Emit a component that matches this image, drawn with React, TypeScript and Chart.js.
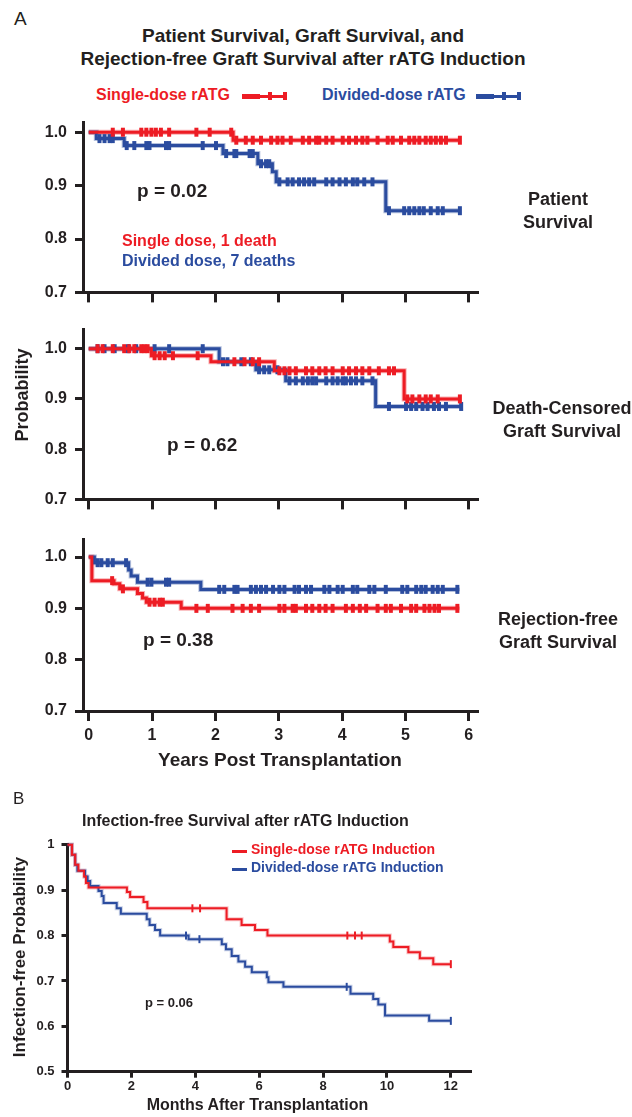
import React, { useEffect, useRef } from "react";
import { Chart, registerables } from "chart.js";

Chart.register(...registerables);

const FONT = '"Liberation Sans", Arial, Helvetica, sans-serif';
const INK = "#231f20";
const RED = "#ed1c24";
const BLUE = "#2b4c9f";
const RED_HALO = "rgba(237, 28, 36, 0.35)";
const BLUE_HALO = "rgba(43, 76, 159, 0.35)";

// ---------- Panel A axes ----------
const A_X_TICKS = [0, 1, 2, 3, 4, 5, 6];
const A_Y_TICKS = [0.7, 0.8, 0.9, 1.0];

// ---------- A1: Patient survival ----------
const PS_SINGLE_T = [0, 2.28, 5.87];
const PS_SINGLE_S = [1.0, 0.985, 0.985];
const PS_SINGLE_CENSOR = [
  0.38, 0.54, 0.83, 0.91, 0.99, 1.06, 1.14, 1.27, 1.7, 1.91, 2.25, 2.33, 2.48, 2.59, 2.72, 2.88,
  2.98, 3.06, 3.19, 3.38, 3.48, 3.59, 3.64, 3.75, 3.85, 4.01, 4.11, 4.22, 4.32, 4.4, 4.56, 4.72,
  4.8, 4.93, 5.06, 5.14, 5.22, 5.32, 5.4, 5.48, 5.56, 5.64, 5.86,
];
const PS_DIVIDED_T = [0, 0.12, 0.56, 2.12, 2.67, 2.9, 2.96, 4.69, 5.86];
const PS_DIVIDED_S = [1.0, 0.988, 0.975, 0.96, 0.941, 0.926, 0.907, 0.853, 0.853];
const PS_DIVIDED_CENSOR = [
  0.17, 0.25, 0.33, 0.38, 0.6, 0.72, 0.91, 0.96, 1.22, 1.27, 1.8, 2.01, 2.17, 2.3, 2.33, 2.54,
  2.59, 2.72, 2.8, 2.85, 3.01, 3.14, 3.22, 3.32, 3.4, 3.48, 3.56, 3.75, 3.85, 3.96, 4.06, 4.17,
  4.24, 4.35, 4.48, 4.74, 4.98, 5.06, 5.14, 5.22, 5.29, 5.4, 5.51, 5.59, 5.86,
];

// ---------- A2: Death-censored graft survival ----------
const GS_SINGLE_T = [0, 0.99, 1.93, 2.93, 4.98, 5.87];
const GS_SINGLE_S = [1.0, 0.986, 0.974, 0.956, 0.9, 0.9];
const GS_SINGLE_CENSOR = [
  0.14, 0.22, 0.38, 0.56, 0.64, 0.72, 0.83, 0.88, 0.93, 1.04, 1.12, 1.2, 1.33, 1.72, 2.3, 2.46,
  2.59, 2.69, 3.01, 3.09, 3.17, 3.27, 3.43, 3.53, 3.64, 3.74, 3.85, 4.01, 4.11, 4.22, 4.32, 4.43,
  4.58, 4.74, 4.82, 5.03, 5.11, 5.22, 5.32, 5.4, 5.51, 5.86,
];
const GS_DIVIDED_T = [0, 2.06, 2.64, 3.11, 4.53, 5.88];
const GS_DIVIDED_S = [1.0, 0.974, 0.958, 0.936, 0.885, 0.885];
const GS_DIVIDED_CENSOR = [
  0.14, 0.25, 0.41, 0.62, 0.75, 1.04, 1.27, 1.8, 2.12, 2.19, 2.41, 2.56, 2.69, 2.77, 2.85, 2.98,
  3.17, 3.27, 3.38, 3.46, 3.53, 3.59, 3.75, 3.85, 3.93, 4.01, 4.06, 4.14, 4.22, 4.32, 4.48, 4.74,
  5.01, 5.09, 5.17, 5.27, 5.35, 5.45, 5.53, 5.64, 5.88,
];

// ---------- A3: Rejection-free graft survival ----------
const RF_SINGLE_T = [0, 0.05, 0.4, 0.49, 0.77, 0.85, 0.91, 1.46, 5.85];
const RF_SINGLE_S = [1.0, 0.954, 0.948, 0.938, 0.929, 0.92, 0.912, 0.9, 0.9];
const RF_SINGLE_CENSOR = [
  0.37, 0.54, 0.96, 1.04, 1.12, 1.17, 1.7, 1.88, 2.27, 2.43, 2.56, 2.69, 3.01, 3.09, 3.22, 3.27,
  3.43, 3.53, 3.64, 3.74, 3.85, 4.06, 4.17, 4.28, 4.38, 4.56, 4.69, 4.77, 4.93, 5.09, 5.17, 5.3,
  5.38, 5.46, 5.53, 5.82,
];
const RF_DIVIDED_T = [0, 0.09, 0.63, 0.67, 0.77, 1.77, 5.85];
const RF_DIVIDED_S = [1.0, 0.989, 0.975, 0.963, 0.951, 0.937, 0.937];
const RF_DIVIDED_CENSOR = [
  0.14, 0.2, 0.3, 0.38, 0.59, 0.93, 0.99, 1.22, 1.27, 2.06, 2.14, 2.3, 2.35, 2.56, 2.64, 2.72,
  2.8, 2.91, 3.01, 3.09, 3.25, 3.32, 3.43, 3.51, 3.72, 3.8, 3.93, 4.01, 4.17, 4.24, 4.43, 4.51,
  4.69, 4.95, 5.03, 5.17, 5.25, 5.32, 5.43, 5.51, 5.59, 5.82,
];

// ---------- Panel B: Infection-free survival ----------
const B_X_TICKS = [0, 2, 4, 6, 8, 10, 12];
const B_Y_TICKS = [0.5, 0.6, 0.7, 0.8, 0.9, 1.0];
const IF_SINGLE_T = [
  0, 0.14, 0.24, 0.34, 0.52, 0.58, 0.66, 1.86, 1.96, 2.38, 2.5, 4.98, 5.45, 5.87, 6.26, 10.09,
  10.2, 10.67, 11.03, 11.45, 12.0,
];
const IF_SINGLE_S = [
  1.0, 0.978, 0.956, 0.943, 0.93, 0.916, 0.906, 0.896, 0.885, 0.874, 0.86, 0.836, 0.823, 0.812,
  0.8, 0.787, 0.775, 0.763, 0.75, 0.737, 0.737,
];
const IF_SINGLE_CENSOR = [3.91, 4.15, 8.76, 9.0, 9.21, 12.0];
const IF_DIVIDED_T = [
  0, 0.14, 0.24, 0.31, 0.55, 0.63, 0.71, 0.97, 1.07, 1.13, 1.54, 1.67, 2.48, 2.57, 2.74, 2.9,
  3.79, 4.83, 4.96, 5.14, 5.35, 5.56, 5.77, 6.24, 6.29, 6.76, 8.86, 9.57, 9.73, 9.94, 11.32, 12.0,
];
const IF_DIVIDED_S = [
  1.0, 0.978, 0.956, 0.943, 0.93, 0.92, 0.909, 0.898, 0.887, 0.872, 0.86, 0.848, 0.836, 0.823,
  0.812, 0.8, 0.792, 0.781, 0.77, 0.755, 0.743, 0.731, 0.719, 0.708, 0.697, 0.687, 0.672, 0.66,
  0.648, 0.624, 0.612, 0.612,
];
const IF_DIVIDED_CENSOR = [3.71, 4.13, 8.74, 12.0];

function stepAt(ts: number[], vs: number[], t: number) {
  let v = vs[0];
  for (let i = 0; i < ts.length; i++) if (ts[i] <= t) v = vs[i];
  return v;
}

type Series = { t: number[]; s: number[]; c: number[]; color: string; halo: string };
type Spec = {
  box: { left: number; top: number; w: number; h: number };
  area: { l: number; t: number; r: number; b: number };
  x: { min: number; max: number; ticks: number[]; tickLen: number; showLabels: boolean; fontSize: number; pad: number; title?: string; titleSize?: number };
  y: { min: number; max: number; ticks: number[]; tickLen: number; fontSize: number; pad: number; fmt: (v: number) => string };
  axisW: number;
  lineW: number;
  markR: number;
  markW: number;
  series: Series[];
};

function buildConfig(p: Spec): any {
  const yWidth = p.area.l - p.box.left;
  const xHeight = p.box.top + p.box.h - p.area.b;
  const lines: any[] = [];
  const halos: any[] = [];
  p.series.forEach((s) => {
    const pts = s.t.map((t, i) => ({ x: t, y: s.s[i] }));
    const marks = s.c.map((t) => ({ x: t, y: stepAt(s.t, s.s, t) }));
    lines.push({
      data: pts,
      showLine: true,
      stepped: "before",
      borderColor: s.color,
      backgroundColor: s.color,
      borderWidth: p.lineW,
      pointRadius: 0,
      pointHoverRadius: 0,
      clip: false,
    });
    lines.push({
      data: marks,
      showLine: false,
      pointStyle: "line",
      pointRotation: 90,
      pointRadius: p.markR,
      pointHoverRadius: p.markR,
      pointBorderWidth: p.markW,
      pointBorderColor: s.color,
      pointBackgroundColor: s.color,
      borderColor: s.color,
      backgroundColor: s.color,
      clip: false,
    });
    halos.push({
      data: pts,
      showLine: true,
      stepped: "before",
      borderColor: s.halo,
      backgroundColor: s.halo,
      borderWidth: p.lineW + 2,
      pointRadius: 0,
      pointHoverRadius: 0,
      clip: false,
    });
  });
  const datasets = [...lines, ...halos];
  const tickFont = (size: number) => ({ family: FONT, size, weight: "bold" as const });
  return {
    type: "scatter",
    data: { datasets },
    options: {
      responsive: false,
      animation: false,
      devicePixelRatio: 1,
      events: [],
      layout: {
        padding: { top: p.area.t - p.box.top, right: p.box.left + p.box.w - p.area.r, left: 0, bottom: 0 },
      },
      plugins: { legend: { display: false }, tooltip: { enabled: false }, title: { display: false } },
      scales: {
        x: {
          type: "linear",
          min: p.x.min,
          max: p.x.max,
          afterBuildTicks: (s: any) => {
            s.ticks = p.x.ticks.map((v) => ({ value: v }));
          },
          afterFit: (s: any) => {
            s.height = xHeight;
          },
          grid: {
            display: true,
            drawOnChartArea: false,
            drawTicks: true,
            tickLength: p.x.tickLen,
            tickWidth: p.axisW,
            tickColor: INK,
            color: INK,
            lineWidth: p.axisW,
          },
          border: { display: true, color: INK, width: p.axisW },
          ticks: {
            display: p.x.showLabels,
            color: INK,
            font: tickFont(p.x.fontSize),
            padding: p.x.pad,
            maxRotation: 0,
            autoSkip: false,
            callback: (v: number) => String(v),
          },
          title: {
            display: !!p.x.title,
            text: p.x.title || "",
            color: INK,
            font: tickFont(p.x.titleSize || 16),
            padding: { top: 0, bottom: 0 },
          },
        },
        y: {
          type: "linear",
          position: "left",
          min: p.y.min,
          max: p.y.max,
          afterBuildTicks: (s: any) => {
            s.ticks = p.y.ticks.map((v) => ({ value: v }));
          },
          afterFit: (s: any) => {
            s.width = yWidth;
          },
          grid: {
            display: true,
            drawOnChartArea: false,
            drawTicks: true,
            tickLength: p.y.tickLen,
            tickWidth: p.axisW,
            tickColor: INK,
            color: INK,
            lineWidth: p.axisW,
          },
          border: { display: true, color: INK, width: p.axisW },
          ticks: {
            display: true,
            color: INK,
            font: tickFont(p.y.fontSize),
            padding: p.y.pad,
            autoSkip: false,
            callback: (v: number) => p.y.fmt(v),
          },
        },
      },
    },
  };
}

function KMChart({ spec }: { spec: Spec }) {
  const ref = useRef<HTMLCanvasElement | null>(null);
  useEffect(() => {
    if (!ref.current) return;
    const chart = new Chart(ref.current, buildConfig(spec));
    return () => chart.destroy();
  }, []);
  return (
    <canvas
      ref={ref}
      width={spec.box.w}
      height={spec.box.h}
      style={{ position: "absolute", left: spec.box.left, top: spec.box.top, width: spec.box.w, height: spec.box.h }}
    />
  );
}

const aX = (showLabels: boolean, title?: string) => ({
  min: -0.09,
  max: 6.13,
  ticks: A_X_TICKS,
  tickLen: 10,
  showLabels,
  fontSize: 16,
  pad: 5,
  title,
  titleSize: 19,
});
const aY = (max: number) => ({
  min: 0.7,
  max,
  ticks: A_Y_TICKS,
  tickLen: 8,
  fontSize: 16,
  pad: 8,
  fmt: (v: number) => v.toFixed(1),
});

const SPEC_A1: Spec = {
  box: { left: 0, top: 105, w: 632, h: 205 },
  area: { l: 83, t: 122, r: 477, b: 294 },
  x: aX(false),
  y: aY(1.018),
  axisW: 3,
  lineW: 3,
  markR: 4.5,
  markW: 4,
  series: [
    { t: PS_SINGLE_T, s: PS_SINGLE_S, c: PS_SINGLE_CENSOR, color: RED, halo: RED_HALO },
    { t: PS_DIVIDED_T, s: PS_DIVIDED_S, c: PS_DIVIDED_CENSOR, color: BLUE, halo: BLUE_HALO },
  ],
};
const SPEC_A2: Spec = {
  box: { left: 0, top: 312, w: 632, h: 205 },
  area: { l: 83, t: 320, r: 477, b: 503 },
  x: aX(false),
  y: aY(1.038),
  axisW: 3,
  lineW: 3,
  markR: 4.5,
  markW: 4,
  series: [
    { t: GS_SINGLE_T, s: GS_SINGLE_S, c: GS_SINGLE_CENSOR, color: RED, halo: RED_HALO },
    { t: GS_DIVIDED_T, s: GS_DIVIDED_S, c: GS_DIVIDED_CENSOR, color: BLUE, halo: BLUE_HALO },
  ],
};
const SPEC_A3: Spec = {
  box: { left: 0, top: 522, w: 632, h: 250 },
  area: { l: 83, t: 530, r: 477, b: 711 },
  x: aX(true, "Years Post Transplantation"),
  y: aY(1.034),
  axisW: 3,
  lineW: 3,
  markR: 4.5,
  markW: 4,
  series: [
    { t: RF_SINGLE_T, s: RF_SINGLE_S, c: RF_SINGLE_CENSOR, color: RED, halo: RED_HALO },
    { t: RF_DIVIDED_T, s: RF_DIVIDED_S, c: RF_DIVIDED_CENSOR, color: BLUE, halo: BLUE_HALO },
  ],
};
const SPEC_B: Spec = {
  box: { left: 0, top: 830, w: 632, h: 285 },
  area: { l: 67.5, t: 843.3, r: 470, b: 1071.7 },
  x: { min: 0, max: 12.6, ticks: B_X_TICKS, tickLen: 6, showLabels: true, fontSize: 13, pad: 1 },
  y: { min: 0.5, max: 1.0, ticks: B_Y_TICKS, tickLen: 6, fontSize: 13, pad: 7, fmt: (v: number) => (v === 1 ? "1" : v.toFixed(1)) },
  axisW: 3,
  lineW: 2,
  markR: 4,
  markW: 2,
  series: [
    { t: IF_SINGLE_T, s: IF_SINGLE_S, c: IF_SINGLE_CENSOR, color: RED, halo: "rgba(237, 28, 36, 0.25)" },
    { t: IF_DIVIDED_T, s: IF_DIVIDED_S, c: IF_DIVIDED_CENSOR, color: BLUE, halo: "rgba(43, 76, 159, 0.25)" },
  ],
};

// ---------- text helpers ----------
function Txt(props: { x: number; y: number; size: number; bold?: boolean; color?: string; align?: "left" | "center"; w?: number; children: React.ReactNode }) {
  const { x, y, size, bold = true, color = INK, align = "left", w = 400, children } = props;
  const lh = Math.round(size * 1.2);
  const top = y - lh / 2 - size * 0.09;
  const left = align === "center" ? x - w / 2 : x;
  return (
    <div
      style={{
        position: "absolute",
        left,
        top,
        width: align === "center" ? w : undefined,
        textAlign: align,
        whiteSpace: "nowrap",
        fontFamily: FONT,
        fontSize: size,
        fontWeight: bold ? 700 : 400,
        lineHeight: lh + "px",
        color,
      }}
    >
      {children}
    </div>
  );
}

function Lines(props: { x: number; y: number; size: number; gap: number; lines: string[]; w?: number }) {
  return (
    <>
      {props.lines.map((l, i) => (
        <Txt key={i} x={props.x} y={props.y + i * props.gap} size={props.size} align="center" w={props.w || 200}>
          {l}
        </Txt>
      ))}
    </>
  );
}

function VTxt(props: { cx: number; cy: number; size: number; children: React.ReactNode }) {
  const w = 300;
  const lh = Math.round(props.size * 1.2);
  return (
    <div
      style={{
        position: "absolute",
        left: props.cx - w / 2,
        top: props.cy - lh / 2,
        width: w,
        height: lh,
        lineHeight: lh + "px",
        textAlign: "center",
        fontFamily: FONT,
        fontSize: props.size,
        fontWeight: 700,
        color: INK,
        transform: "rotate(-90deg)",
        whiteSpace: "nowrap",
      }}
    >
      {props.children}
    </div>
  );
}

function LegendMarkA(props: { x: number; y: number; color: string }) {
  const { x, y, color } = props;
  const box = (l: number, t: number, w: number, h: number, k: string) => (
    <div key={k} style={{ position: "absolute", left: l, top: t, width: w, height: h, background: color }} />
  );
  return (
    <>
      {box(x, y - 1.5, 45, 3, "a")}
      {box(x, y - 2.5, 18, 5, "b")}
      {box(x + 26, y - 4, 4, 8, "c")}
      {box(x + 41, y - 4, 4, 8, "d")}
    </>
  );
}

export default function App() {
  return (
    <div style={{ position: "absolute", left: 0, top: 0, width: 632, height: 1117, background: "#fff", overflow: "hidden" }}>
      <KMChart spec={SPEC_A1} />
      <KMChart spec={SPEC_A2} />
      <KMChart spec={SPEC_A3} />
      <KMChart spec={SPEC_B} />

      {/* Panel A header */}
      <Txt x={14} y={20} size={19} bold={false}>A</Txt>
      <Txt x={303} y={37} size={19} align="center" w={560}>Patient Survival, Graft Survival, and</Txt>
      <Txt x={303} y={60} size={19} align="center" w={560}>Rejection-free Graft Survival after rATG Induction</Txt>
      <Txt x={96} y={96} size={16} color={RED}>Single-dose rATG</Txt>
      <LegendMarkA x={242} y={96} color={RED} />
      <Txt x={322} y={96} size={16} color={BLUE}>Divided-dose rATG</Txt>
      <LegendMarkA x={476} y={96} color={BLUE} />

      {/* Panel A annotations */}
      <Txt x={137} y={192} size={19}>p = 0.02</Txt>
      <Txt x={122} y={242} size={16} color={RED}>Single dose, 1 death</Txt>
      <Txt x={122} y={262} size={16} color={BLUE}>Divided dose, 7 deaths</Txt>
      <Txt x={167} y={446} size={19}>p = 0.62</Txt>
      <Txt x={143} y={641} size={19}>p = 0.38</Txt>

      <Lines x={558} y={201} size={18} gap={23} lines={["Patient", "Survival"]} />
      <Lines x={562} y={410} size={18} gap={23} lines={["Death-Censored", "Graft Survival"]} />
      <Lines x={558} y={621} size={18} gap={23} lines={["Rejection-free", "Graft Survival"]} />

      <VTxt cx={22} cy={395} size={18}>Probability</VTxt>

      {/* Panel B */}
      <Txt x={13} y={801} size={17} bold={false}>B</Txt>
      <Txt x={82} y={822} size={16}>Infection-free Survival after rATG Induction</Txt>
      <div style={{ position: "absolute", left: 232, top: 849.5, width: 15, height: 3, background: RED }} />
      <Txt x={251} y={851} size={14} color={RED}>Single-dose rATG Induction</Txt>
      <div style={{ position: "absolute", left: 232, top: 867.5, width: 15, height: 3, background: BLUE }} />
      <Txt x={251} y={869} size={14} color={BLUE}>Divided-dose rATG Induction</Txt>
      <Txt x={145} y={1004} size={13}>p = 0.06</Txt>
      <VTxt cx={20} cy={957} size={17}>Infection-free Probability</VTxt>
      <Txt x={257.5} y={1106} size={16} align="center" w={400}>Months After Transplantation</Txt>
    </div>
  );
}
